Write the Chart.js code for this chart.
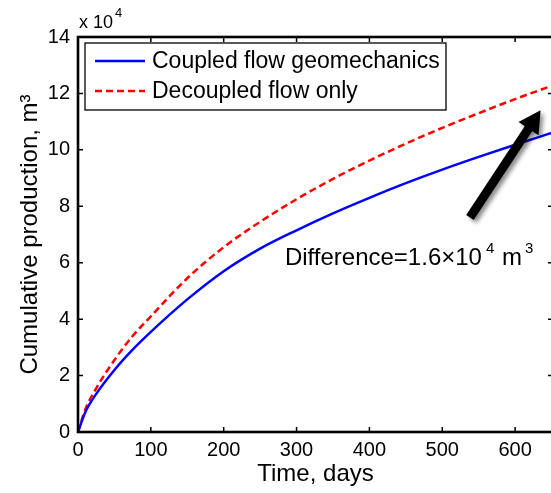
<!DOCTYPE html>
<html>
<head>
<meta charset="utf-8">
<script src="https://cdn.jsdelivr.net/npm/chart.js@4.4.1/dist/chart.umd.min.js"></script>
<style>
  html, body { margin: 0; padding: 0; background: #fff; overflow: hidden; }
  #wrap { width: 556px; height: 493px; }
</style>
</head>
<body>
<div id="wrap"><canvas id="myChart" width="556" height="493"></canvas></div>
<script>
'use strict';

// time in days, production in units of 1e4 m^3
var days = [0, 10, 25, 50, 75, 100, 150, 200, 250, 300, 350, 400, 450, 500, 550, 600, 650];
var coupled = [0, 0.7, 1.35, 2.2, 2.92, 3.55, 4.7, 5.7, 6.5, 7.15, 7.75, 8.3, 8.82, 9.3, 9.75, 10.18, 10.6];
var decoupled = [0, 0.8, 1.55, 2.55, 3.4, 4.1, 5.45, 6.55, 7.45, 8.25, 8.97, 9.62, 10.22, 10.78, 11.3, 11.8, 12.27];
var seriesNames = ['Coupled flow geomechanics', 'Decoupled flow only'];
var xTicks = [0, 100, 200, 300, 400, 500, 600];
var yTicks = [0, 2, 4, 6, 8, 10, 12, 14];

var FONT = "'Liberation Sans', Arial, Helvetica, sans-serif";

function toPoints(xs, ys) {
  var pts = [];
  for (var i = 0; i < xs.length; i++) {
    pts.push({ x: xs[i], y: ys[i] });
  }
  return pts;
}

var matlabAxes = {
  id: 'matlabAxes',
  afterDatasetsDraw: function (chart) {
    var ctx = chart.ctx;
    var a = chart.chartArea;
    var xs = chart.scales.x;
    var ys = chart.scales.y;
    ctx.save();

    // inward ticks on all four sides
    ctx.strokeStyle = '#000';
    ctx.lineWidth = 1.5;
    ctx.beginPath();
    xTicks.forEach(function (v) {
      var px = xs.getPixelForValue(v);
      ctx.moveTo(px, a.bottom); ctx.lineTo(px, a.bottom - 5);
      ctx.moveTo(px, a.top); ctx.lineTo(px, a.top + 5);
    });
    yTicks.forEach(function (v) {
      var py = ys.getPixelForValue(v);
      ctx.moveTo(a.left, py); ctx.lineTo(a.left + 5, py);
      ctx.moveTo(a.right, py); ctx.lineTo(a.right - 5, py);
    });
    ctx.stroke();

    // box
    ctx.lineWidth = 2.6;
    ctx.strokeRect(a.left, a.top, a.right - a.left, a.bottom - a.top);

    // exponent label
    ctx.fillStyle = '#000';
    ctx.textBaseline = 'alphabetic';
    ctx.textAlign = 'left';
    ctx.font = '18px ' + FONT;
    ctx.fillText('x 10', a.left + 1, a.top - 9);
    var ew = ctx.measureText('x 10').width;
    ctx.font = '13px ' + FONT;
    ctx.fillText('4', a.left + ew + 3, a.top - 20);

    // legend
    var lx = 85, ly = 43, lw = 361, lh = 67;
    ctx.fillStyle = '#fff';
    ctx.fillRect(lx, ly, lw, lh);
    ctx.lineWidth = 1.3;
    ctx.strokeStyle = '#000';
    ctx.strokeRect(lx, ly, lw, lh);
    var rows = [
      { name: seriesNames[0], color: '#0000ff', dash: [] , y: ly + 18 },
      { name: seriesNames[1], color: '#ff0000', dash: [7, 4], y: ly + 48 }
    ];
    rows.forEach(function (r) {
      ctx.strokeStyle = r.color;
      ctx.lineWidth = 2.5;
      ctx.setLineDash(r.dash);
      ctx.beginPath();
      ctx.moveTo(lx + 10, r.y);
      ctx.lineTo(lx + 60, r.y);
      ctx.stroke();
      ctx.setLineDash([]);
      ctx.fillStyle = '#000';
      ctx.font = '23px ' + FONT;
      ctx.textBaseline = 'middle';
      ctx.fillText(r.name, lx + 67, r.y + 1);
    });

    // arrow pointing at the gap between the curves (data coords)
    var tailX = xs.getPixelForValue(538), tailY = ys.getPixelForValue(7.6);
    var tipX = xs.getPixelForValue(635), tipY = ys.getPixelForValue(11.4);
    var dx = tipX - tailX, dy = tipY - tailY;
    var len = Math.sqrt(dx * dx + dy * dy);
    var ux = dx / len, uy = dy / len;
    var headLen = 22, headW = 12;
    var bx = tipX - ux * headLen, by = tipY - uy * headLen;
    ctx.shadowColor = 'rgba(0,0,0,0.45)';
    ctx.shadowBlur = 4;
    ctx.shadowOffsetX = 3;
    ctx.shadowOffsetY = 3;
    ctx.strokeStyle = '#000';
    ctx.fillStyle = '#000';
    ctx.lineWidth = 9;
    ctx.beginPath();
    ctx.moveTo(tailX, tailY);
    ctx.lineTo(bx + ux * 2, by + uy * 2);
    ctx.stroke();
    ctx.beginPath();
    ctx.moveTo(tipX, tipY);
    ctx.lineTo(bx - uy * headW, by + ux * headW);
    ctx.lineTo(bx + uy * headW, by - ux * headW);
    ctx.closePath();
    ctx.fill();
    ctx.shadowColor = 'transparent';
    ctx.shadowBlur = 0;
    ctx.shadowOffsetX = 0;
    ctx.shadowOffsetY = 0;

    // difference text
    var tx = xs.getPixelForValue(284), ty = ys.getPixelForValue(5.92);
    ctx.textBaseline = 'alphabetic';
    ctx.font = '24px ' + FONT;
    var main = 'Difference=1.6\u00d710';
    ctx.fillText(main, tx, ty);
    var w = ctx.measureText(main).width;
    ctx.font = '15px ' + FONT;
    ctx.fillText('4', tx + w + 4, ty - 12);
    ctx.font = '24px ' + FONT;
    ctx.fillText('m', tx + w + 20, ty);
    var mw = ctx.measureText('m').width;
    ctx.font = '15px ' + FONT;
    ctx.fillText('3', tx + w + 23 + mw, ty - 12);

    ctx.restore();
  }
};

var ctx = document.getElementById('myChart').getContext('2d');

var myChart = new Chart(ctx, {
  type: 'line',
  data: {
    datasets: [
      {
        label: seriesNames[0],
        data: toPoints(days, coupled),
        borderColor: '#0000ff',
        borderWidth: 2.5,
        pointRadius: 0,
        fill: false,
        cubicInterpolationMode: 'monotone'
      },
      {
        label: seriesNames[1],
        data: toPoints(days, decoupled),
        borderColor: '#ff0000',
        borderWidth: 2.5,
        borderDash: [7, 4],
        pointRadius: 0,
        fill: false,
        cubicInterpolationMode: 'monotone'
      }
    ]
  },
  options: {
    responsive: false,
    animation: false,
    layout: { padding: { top: 37, right: 3, left: 0, bottom: 0 } },
    plugins: {
      legend: { display: false },
      tooltip: { enabled: false }
    },
    scales: {
      x: {
        type: 'linear',
        min: 0,
        max: 652,
        afterFit: function (scale) { scale.height = 61; },
        grid: { display: false, drawTicks: false },
        border: { display: false },
        ticks: {
          stepSize: 100,
          includeBounds: false,
          maxRotation: 0,
          padding: 6,
          color: '#000',
          font: { family: FONT, size: 20 }
        },
        title: {
          display: true,
          text: 'Time, days',
          color: '#000',
          font: { family: FONT, size: 24 },
          padding: { top: 0, bottom: 4 }
        }
      },
      y: {
        min: 0,
        max: 14,
        afterFit: function (scale) { scale.width = 78; },
        grid: { display: false, drawTicks: false },
        border: { display: false },
        ticks: {
          stepSize: 2,
          padding: 8,
          color: '#000',
          font: { family: FONT, size: 20 }
        },
        title: {
          display: true,
          text: 'Cumulative production, m\u00b3',
          color: '#000',
          font: { family: FONT, size: 24 },
          padding: { top: 16, bottom: 0 }
        }
      }
    }
  },
  plugins: [matlabAxes]
});
</script>
</body>
</html>
